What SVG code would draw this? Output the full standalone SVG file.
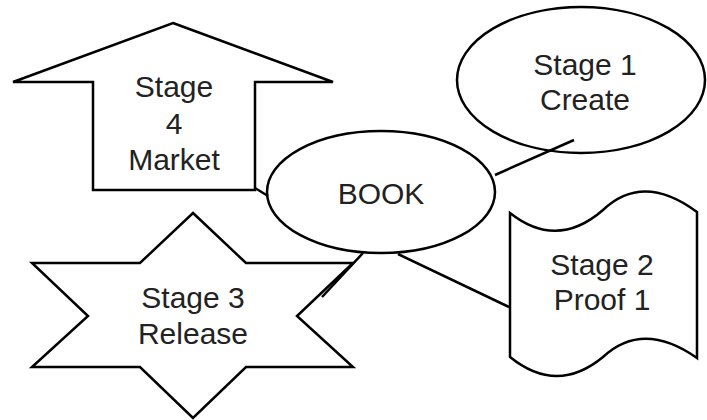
<svg xmlns="http://www.w3.org/2000/svg" width="707" height="420" viewBox="0 0 707 420">
<style>
.s{fill:#fff;stroke:#000;stroke-width:2.5;stroke-linejoin:miter}
.c{stroke:#000;stroke-width:2.5;fill:none}
text{font-family:"Liberation Sans",Arial,sans-serif;font-size:30px;fill:#222;text-anchor:middle}
</style>
<rect width="707" height="420" fill="#fff"/>
<g id="stage4">
<polygon class="s" points="173,23 333,82 255,82 255,190 93,190 93,82 13,82"/>
<text x="174" y="97">Stage</text>
<text x="174" y="134">4</text>
<text x="174" y="170">Market</text>
</g>
<g id="stage1">
<ellipse class="s" cx="581" cy="80" rx="124" ry="73"/>
<text x="585" y="75">Stage 1</text>
<text x="585" y="110">Create</text>
</g>
<g id="stage3">
<polygon class="s" points="193,213 246,263 353,263 297,316 353,367 246,367 193,418 140,367 32,367 88,316 32,263 140,263"/>
<text x="193" y="308">Stage 3</text>
<text x="193" y="344">Release</text>
</g>
<g id="stage2">
<path class="s" d="M510,213 Q557,250 603,210 Q643,172 697,212 L697,358 Q643,320 603,357 Q557,395 510,357 Z"/>
<text x="602" y="275">Stage 2</text>
<text x="602" y="310">Proof 1</text>
</g>
<g id="book">
<ellipse class="s" cx="381" cy="192" rx="114" ry="61"/>
<text x="381" y="204">BOOK</text>
</g>
<g id="connectors">
<line class="c" x1="255" y1="188" x2="268" y2="196"/>
<line class="c" x1="495" y1="175" x2="574" y2="140"/>
<line class="c" x1="398" y1="254" x2="509" y2="307"/>
<line class="c" x1="363" y1="253" x2="322" y2="297"/>
</g>
</svg>
